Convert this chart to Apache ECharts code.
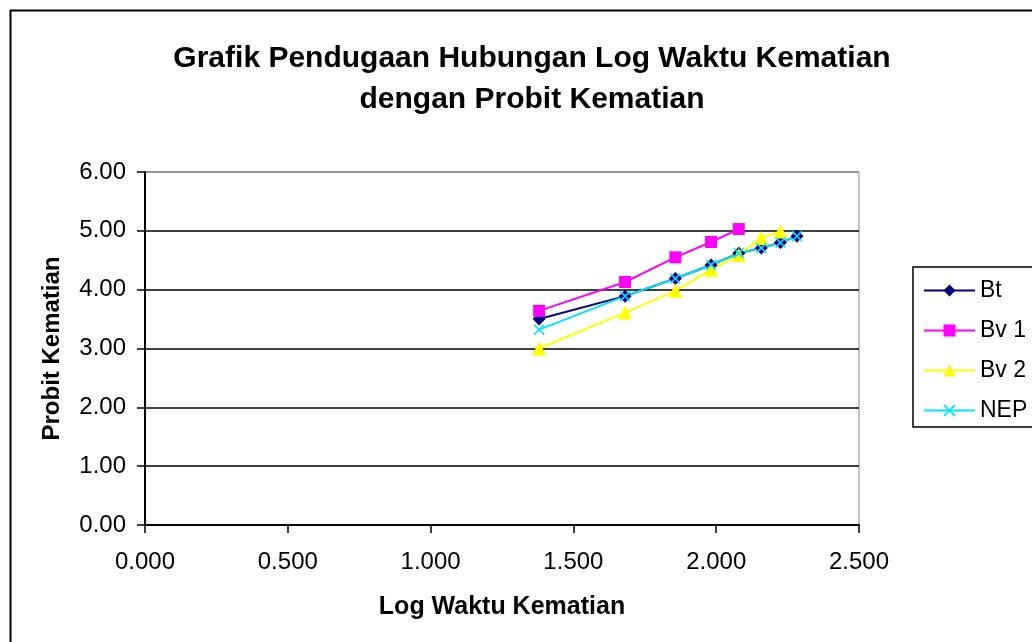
<!DOCTYPE html>
<html>
<head>
<meta charset="utf-8">
<script src="https://cdn.jsdelivr.net/npm/echarts@6/dist/echarts.min.js"></script>
<style>
  html, body { margin: 0; padding: 0; background: #fff; }
  #chart { width: 1032px; height: 642px; }
</style>
</head>
<body>
<div id="chart"></div>
<script>
// log waktu (jam) untuk tiap pengamatan
const logTime = [1.380, 1.681, 1.857, 1.982, 2.079, 2.158, 2.225, 2.283]
const bt = [3.50, 3.89, 4.19, 4.42, 4.62, 4.71, 4.80, 4.91]
const bv1 = [3.64, 4.13, 4.55, 4.81, 5.03]
const bv2 = [3.00, 3.61, 3.98, 4.34, 4.59, 4.88, 4.99]
const nep = [3.32, 3.89, 4.19, 4.42, 4.62, 4.71, 4.80, 4.91]
const seriesNames = ['Bt', 'Bv 1', 'Bv 2', 'NEP']

const pair = (vals) => vals.map((v, i) => [logTime[i], v])

const font = 'Liberation Sans, Arial, sans-serif'
const xMark = 'path://M0,1L1,0L5,4L9,0L10,1L6,5L10,9L9,10L5,6L1,10L0,9L4,5Z'

const chart = echarts.init(document.getElementById('chart'))

function lineSeries(name, data, color, symbol, size) {
  return {
    name,
    type: 'line',
    data: pair(data),
    symbol,
    symbolSize: size,
    showAllSymbol: true,
    animation: false,
    lineStyle: { color, width: 2 },
    itemStyle: { color },
  }
}

const option = {
  backgroundColor: '#fff',
  animation: false,
  title: {
    text: 'Grafik Pendugaan Hubungan Log Waktu Kematian\ndengan Probit Kematian',
    left: 527,
    top: 33,
    textAlign: 'center',
    textStyle: {
      fontFamily: font,
      fontSize: 30,
      fontWeight: 'bold',
      color: '#000',
      lineHeight: 41,
    },
  },
  graphic: [
    {
      type: 'rect',
      shape: { x: 10.5, y: 10.5, width: 1040, height: 660 },
      style: { fill: 'none', stroke: '#000', lineWidth: 2 },
      z: -1,
    },
  ],
  legend: {
    data: seriesNames,
    orient: 'vertical',
    left: 913,
    top: 267,
    width: 140,
    padding: [12, 60, 5, 10],
    itemGap: 17,
    itemWidth: 51,
    itemHeight: 15,
    borderColor: '#000',
    borderWidth: 1.5,
    textStyle: { fontFamily: font, fontSize: 23, lineHeight: 23, color: '#000' },
  },
  grid: {
    left: 145,
    right: 173,
    top: 172,
    bottom: 117,
    show: true,
    borderColor: '#888',
    borderWidth: 1,
    containLabel: false,
  },
  xAxis: {
    type: 'value',
    min: 0,
    max: 2.5,
    interval: 0.5,
    name: 'Log Waktu Kematian',
    nameLocation: 'middle',
    nameGap: 70,
    nameTextStyle: { fontFamily: font, fontSize: 25, fontWeight: 'bold', color: '#000' },
    axisLine: { lineStyle: { color: '#000', width: 2 } },
    axisTick: { show: true, length: 8, lineStyle: { color: '#000', width: 1.5 } },
    axisLabel: {
      fontFamily: font,
      fontSize: 24,
      color: '#000',
      margin: 25,
      formatter: (v) => v.toFixed(3),
    },
    splitLine: { show: false },
  },
  yAxis: {
    type: 'value',
    min: 0,
    max: 6,
    interval: 1,
    name: 'Probit Kematian',
    nameLocation: 'middle',
    nameGap: 81,
    nameTextStyle: { fontFamily: font, fontSize: 24, fontWeight: 'bold', color: '#000' },
    axisLine: { show: true, lineStyle: { color: '#000', width: 2 } },
    axisTick: { show: true, length: 8, lineStyle: { color: '#000', width: 1.5 } },
    axisLabel: {
      fontFamily: font,
      fontSize: 24,
      color: '#000',
      margin: 19,
      formatter: (v) => v.toFixed(2),
    },
    splitLine: {
      show: true,
      lineStyle: { color: ['#000', '#000', '#000', '#000', '#000', '#000', '#888'], width: 1.5 },
    },
  },
  series: [
    lineSeries('Bt', bt, '#000080', 'diamond', 13),
    lineSeries('Bv 1', bv1, '#ff00ff', 'rect', 12),
    lineSeries('Bv 2', bv2, '#ffff00', 'triangle', 14),
    lineSeries('NEP', nep, '#00e5ff', xMark, 11),
  ],
}

chart.setOption(option)
</script>
</body>
</html>
